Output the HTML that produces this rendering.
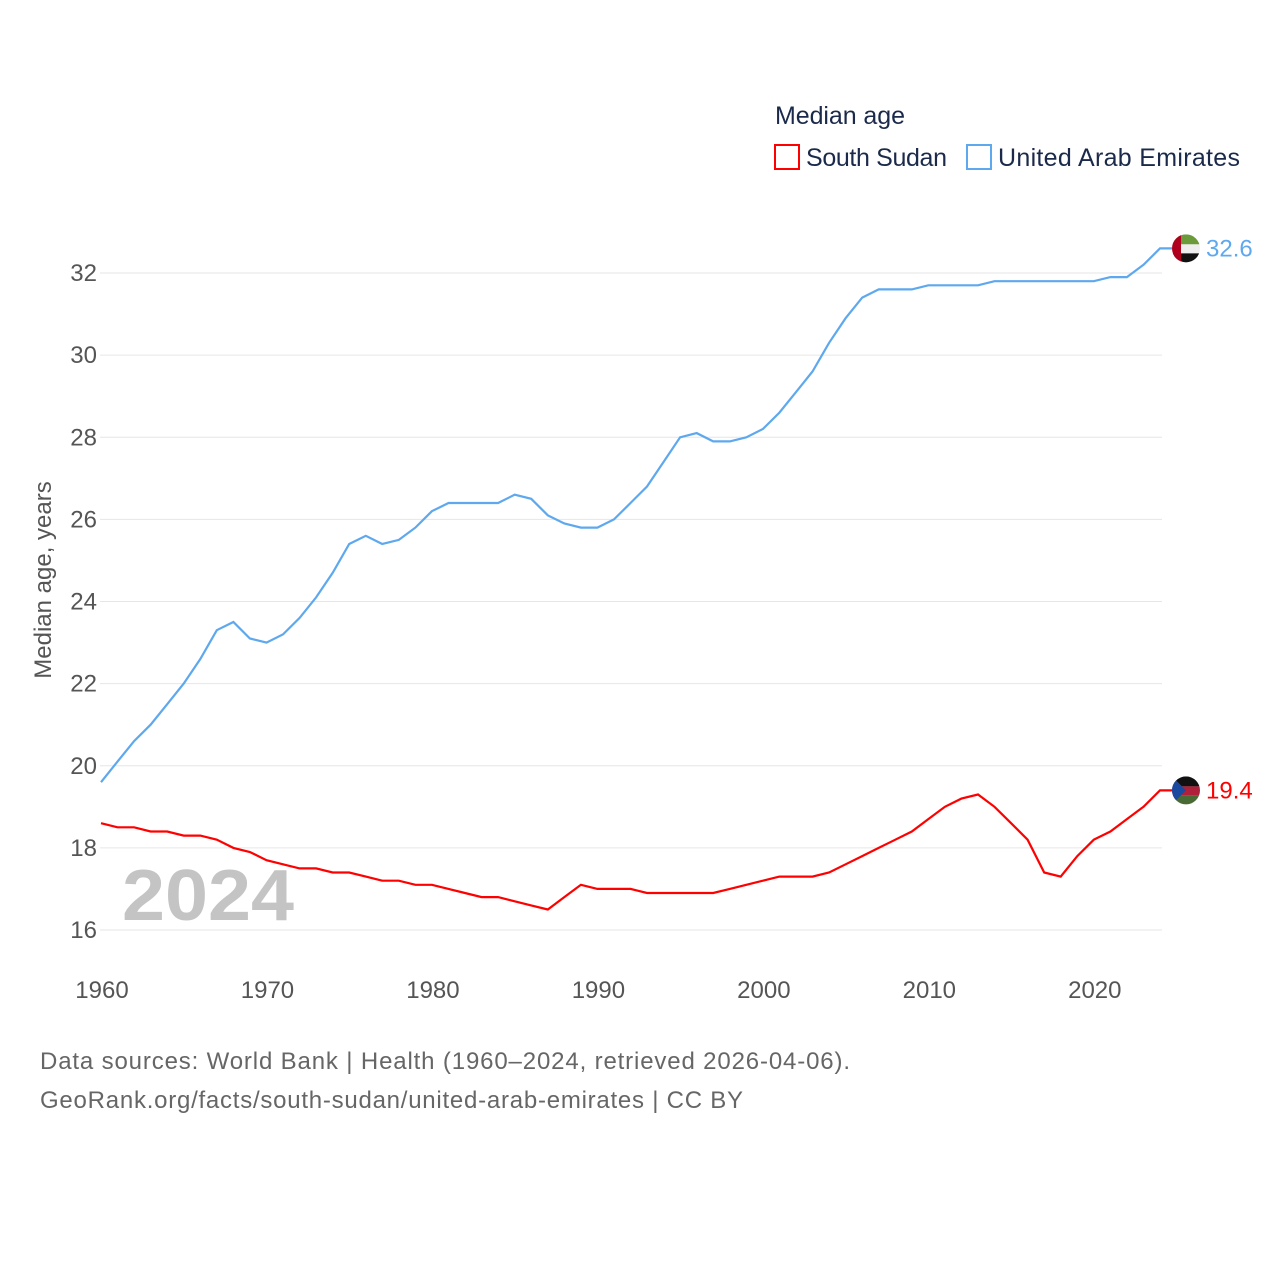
<!DOCTYPE html>
<html><head><meta charset="utf-8"><style>
body{margin:0;background:#fff;font-family:"Liberation Sans",sans-serif}
svg text{font-family:"Liberation Sans",sans-serif}
</style></head><body>
<svg id="chart" width="1280" height="1280" xmlns="http://www.w3.org/2000/svg">
<text x="775" y="124" font-size="25" fill="#1b2a4a" textLength="130">Median age</text>
<rect x="775" y="145" width="24" height="24" fill="none" stroke="#ff0000" stroke-width="2"/>
<text x="806" y="166" font-size="25" fill="#1b2a4a" textLength="141">South Sudan</text>
<rect x="967" y="145" width="24" height="24" fill="none" stroke="#5ea8ee" stroke-width="2"/>
<text x="998" y="166" font-size="25" fill="#1b2a4a" textLength="242">United Arab Emirates</text>
<g id="grid"></g><g id="yticks"></g><g id="xticks"></g>
<text x="122" y="920" font-size="72" font-weight="bold" fill="#c4c4c4" textLength="172" lengthAdjust="spacingAndGlyphs">2024</text>
<text transform="translate(51,580) rotate(-90)" font-size="24" fill="#555" text-anchor="middle">Median age, years</text>
<g id="series"></g>
<text x="40" y="1069" font-size="24" fill="#666" textLength="810">Data sources: World Bank | Health (1960–2024, retrieved 2026-04-06).</text>
<text x="40" y="1108" font-size="24" fill="#666" textLength="703">GeoRank.org/facts/south-sudan/united-arab-emirates | CC BY</text>
</svg>
<script>
const years=[];for(let y=1960;y<=2024;y++)years.push(y);
const uae=[19.6,20.1,20.6,21.0,21.5,22.0,22.6,23.3,23.5,23.1,23.0,23.2,23.6,24.1,24.7,25.4,25.6,25.4,25.5,25.8,26.2,26.4,26.4,26.4,26.4,26.6,26.5,26.1,25.9,25.8,25.8,26.0,26.4,26.8,27.4,28.0,28.1,27.9,27.9,28.0,28.2,28.6,29.1,29.6,30.3,30.9,31.4,31.6,31.6,31.6,31.7,31.7,31.7,31.7,31.8,31.8,31.8,31.8,31.8,31.8,31.8,31.9,31.9,32.2,32.6];
const ssd=[18.6,18.5,18.5,18.4,18.4,18.3,18.3,18.2,18.0,17.9,17.7,17.6,17.5,17.5,17.4,17.4,17.3,17.2,17.2,17.1,17.1,17.0,16.9,16.8,16.8,16.7,16.6,16.5,16.8,17.1,17.0,17.0,17.0,16.9,16.9,16.9,16.9,16.9,17.0,17.1,17.2,17.3,17.3,17.3,17.4,17.6,17.8,18.0,18.2,18.4,18.7,19.0,19.2,19.3,19.0,18.6,18.2,17.4,17.3,17.8,18.2,18.4,18.7,19.0,19.4];
const yTicks=[16,18,20,22,24,26,28,30,32];
const xTicks=[1960,1970,1980,1990,2000,2010,2020];
const NS="http://www.w3.org/2000/svg";
const X=y=>101+(y-1960)*(1059/64);
const Y=v=>930-(v-16)*(657/16);
function mk(t,a,p){const e=document.createElementNS(NS,t);for(const k in a)e.setAttribute(k,a[k]);p.appendChild(e);return e;}
const g=document.getElementById('grid'),yt=document.getElementById('yticks'),xt=document.getElementById('xticks'),s=document.getElementById('series');
yTicks.forEach(v=>{
 const l=mk('line',{x1:100,x2:1162,y1:Y(v),y2:Y(v),stroke:'#e6e6e6','stroke-width':1},g);
 
 
 const t=mk('text',{x:97,y:Y(v)+8,'font-size':24,fill:'#555','text-anchor':'end'},yt);t.textContent=v;
 
 
});
xTicks.forEach(v=>{
 const t=mk('text',{x:X(v)+1,y:998,'font-size':24,fill:'#555','text-anchor':'middle'},xt);t.textContent=v;
 
 
});
function series(vals,color,name,flag){
 const d=vals.map((v,i)=>(i?'L':'M')+X(years[i]).toFixed(1)+','+Y(v).toFixed(1)).join('')+'H1186';
 const p=mk('path',{d,fill:'none',stroke:color,'stroke-width':2.2},s);
 
 
 const last=vals[vals.length-1],cy=Y(last);
 const c=mk('g',{},s);
 
 
 flag(c,cy);
 const t=mk('text',{x:1206,y:cy+8,'font-size':24,fill:color},s);t.textContent=last.toFixed(1);
 
 
}
series(uae,'#5ea8ee','uae',(c,cy)=>{
 mk('clipPath',{id:'cu'},c);
 mk('circle',{cx:1186,cy:cy,r:14},c.firstChild);
 const gg=mk('g',{'clip-path':'url(#cu)'},c);
 mk('rect',{x:1172,y:cy-14,width:28,height:10,fill:'#6a9a3a'},gg);
 mk('rect',{x:1172,y:cy-4,width:28,height:9,fill:'#eee'},gg);
 mk('rect',{x:1172,y:cy+5,width:28,height:10,fill:'#111'},gg);
 mk('rect',{x:1172,y:cy-14,width:9,height:28,fill:'#b0001e'},gg);
});
series(ssd,'#ff0000','south-sudan',(c,cy)=>{
 mk('clipPath',{id:'cs'},c);
 mk('circle',{cx:1186,cy:cy,r:14},c.firstChild);
 const gg=mk('g',{'clip-path':'url(#cs)'},c);
 mk('rect',{x:1172,y:cy-14,width:28,height:10,fill:'#111'},gg);
 mk('rect',{x:1172,y:cy-4,width:28,height:9,fill:'#b0203a'},gg);
 mk('rect',{x:1172,y:cy+5,width:28,height:10,fill:'#4a6a35'},gg);
 mk('polygon',{points:`1172,${cy-14} 1186,${cy} 1172,${cy+14}`,fill:'#1a4aa0'},gg);
});
</script>
</body></html>
